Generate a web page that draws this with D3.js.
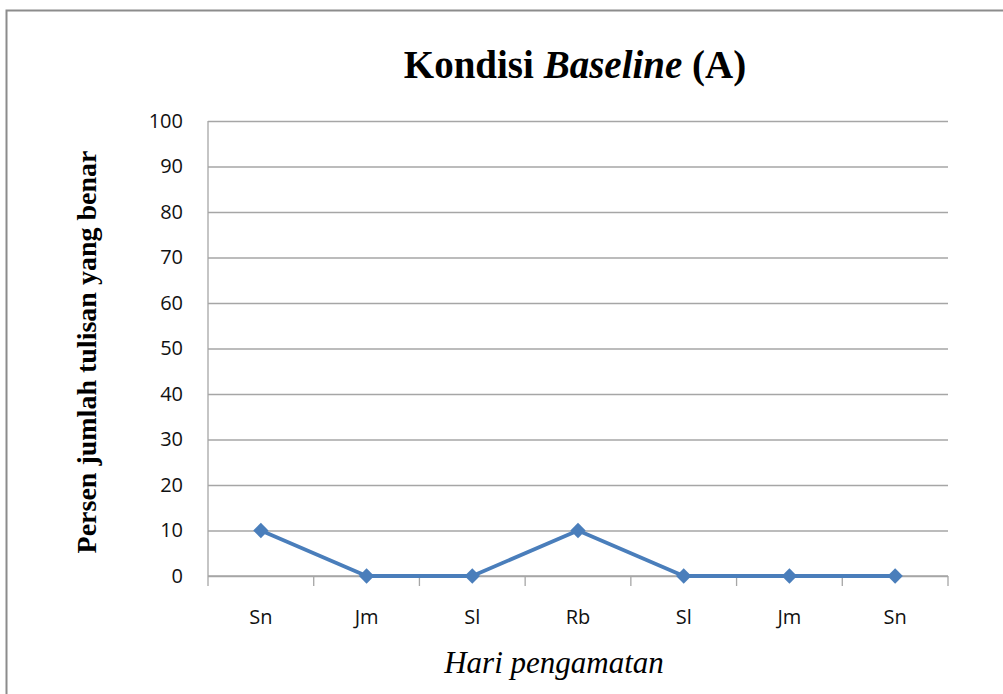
<!DOCTYPE html>
<html>
<head>
<meta charset="utf-8">
<script src="https://cdn.jsdelivr.net/npm/d3@7"></script>
<style>
  body { margin: 0; background: #fff; }
</style>
</head>
<body>
<svg id="chart"></svg>
<script>
// days of observation (labels repeat, so positions come from the index)
const days = ["Sn", "Jm", "Sl", "Rb", "Sl", "Jm", "Sn"];
const percentCorrect = [10, 0, 0, 10, 0, 0, 0];
const yTicks = [0, 10, 20, 30, 40, 50, 60, 70, 80, 90, 100];

const width = 1003, height = 694;
const marginTop = 121, marginRight = 55, marginBottom = 118, marginLeft = 208;
const blue = "#4a7ebb", grid = "#a6a6a6";

const svg = d3.select("#chart")
    .attr("width", width)
    .attr("height", height)
    .attr("viewBox", [0, 0, width, height]);

// outer chart-area frame
svg.append("rect")
    .attr("x", 6.5).attr("y", 10.5)
    .attr("width", width).attr("height", height)
    .attr("fill", "none")
    .attr("stroke", "#8c8c8c")
    .attr("stroke-width", 2);

const x = d3.scaleBand()
    .domain(d3.range(days.length))
    .range([marginLeft, width - marginRight]);

const y = d3.scaleLinear()
    .domain([0, 100])
    .range([height - marginBottom, marginTop]);

// horizontal gridlines + y labels
svg.append("g")
    .attr("transform", `translate(${marginLeft},0)`)
    .call(d3.axisLeft(y).tickValues(yTicks).tickSize(0).tickPadding(25))
    .call(g => g.select(".domain").remove())
    .call(g => g.selectAll(".tick line").clone()
        .attr("x2", width - marginLeft - marginRight)
        .attr("stroke", grid)
        .attr("stroke-width", 1.3))
    .call(g => g.selectAll(".tick text")
        .attr("fill", "#111")
        .attr("font-family", "'Open Sans', sans-serif")
        .attr("font-size", 20));

// y axis line
svg.append("line")
    .attr("x1", marginLeft).attr("x2", marginLeft)
    .attr("y1", y(100)).attr("y2", y(0))
    .attr("stroke", grid).attr("stroke-width", 1.3);

// x axis with tick marks at band edges
const xAxis = svg.append("g")
    .attr("transform", `translate(0,${y(0)})`);
xAxis.append("line")
    .attr("x1", marginLeft).attr("x2", width - marginRight)
    .attr("stroke", grid).attr("stroke-width", 1.3);
xAxis.selectAll(".edge")
    .data(d3.range(days.length + 1))
    .join("line")
    .attr("x1", i => i < days.length ? x(i) : x(days.length - 1) + x.bandwidth())
    .attr("x2", i => i < days.length ? x(i) : x(days.length - 1) + x.bandwidth())
    .attr("y1", 0).attr("y2", 10)
    .attr("stroke", grid).attr("stroke-width", 1.3);
xAxis.selectAll(".lbl")
    .data(days)
    .join("text")
    .attr("x", (d, i) => x(i) + x.bandwidth() / 2)
    .attr("y", 48)
    .attr("text-anchor", "middle")
    .attr("font-family", "'Open Sans', sans-serif")
    .attr("font-size", 20)
    .attr("fill", "#111")
    .text(d => d);

// the series
const cx = i => x(i) + x.bandwidth() / 2;
const line = d3.line()
    .x((d, i) => cx(i))
    .y(d => y(d));

svg.append("path")
    .datum(percentCorrect)
    .attr("fill", "none")
    .attr("stroke", blue)
    .attr("stroke-width", 3.8)
    .attr("stroke-linejoin", "round")
    .attr("d", line);

svg.append("g")
    .attr("fill", blue)
  .selectAll("path")
  .data(percentCorrect)
  .join("path")
    .attr("transform", (d, i) => `translate(${cx(i)},${y(d)})`)
    .attr("d", d3.symbol(d3.symbolDiamond2, 150));

// title
const title = svg.append("text")
    .attr("x", 575)
    .attr("y", 78)
    .attr("text-anchor", "middle")
    .attr("font-family", "'Liberation Serif', 'Times New Roman', serif")
    .attr("font-size", 39)
    .attr("font-weight", "bold")
    .attr("fill", "#000");
title.append("tspan").text("Kondisi ");
title.append("tspan").attr("font-style", "italic").text("Baseline");
title.append("tspan").text(" (A)");

// y-axis title
svg.append("text")
    .attr("transform", `translate(96,352) rotate(-90)`)
    .attr("text-anchor", "middle")
    .attr("font-family", "'Liberation Serif', 'Times New Roman', serif")
    .attr("font-size", 28)
    .attr("font-weight", "bold")
    .attr("fill", "#000")
    .text("Persen jumlah tulisan yang benar");

// x-axis title
svg.append("text")
    .attr("x", 554)
    .attr("y", 673)
    .attr("text-anchor", "middle")
    .attr("font-family", "'Liberation Serif', 'Times New Roman', serif")
    .attr("font-size", 31)
    .attr("font-style", "italic")
    .attr("fill", "#000")
    .text("Hari pengamatan");
</script>
</body>
</html>
